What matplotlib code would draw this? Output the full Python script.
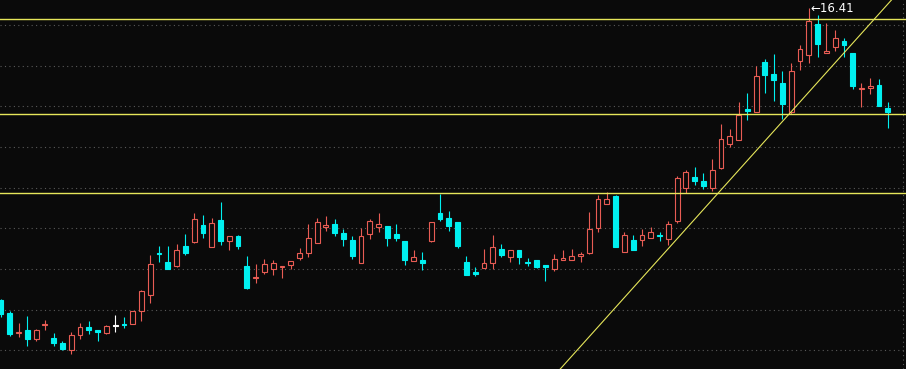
import matplotlib
matplotlib.use('Agg')
import matplotlib.pyplot as plt
import numpy as np

# Daily OHLC (102 sessions)
opens = [9.24, 8.92, 8.42, 8.50, 8.28, 8.62, 8.30, 8.18, 8.02, 8.39,
         8.58, 8.50, 8.43, 8.59, 8.64, 8.65, 8.98, 9.35, 10.40, 10.17,
         10.07, 10.56, 10.66, 11.08, 10.55, 11.21, 10.70, 10.81, 10.07, 9.77,
         9.93, 10.01, 10.06, 10.09, 10.28, 10.40, 10.63, 11.04, 11.11, 10.88,
         10.71, 10.16, 10.87, 11.03, 11.06, 10.87, 10.69, 10.20, 10.22, 10.69,
         11.38, 11.25, 11.16, 10.17, 9.91, 10.03, 10.15, 10.49, 10.30, 10.46,
         10.18, 10.22, 10.09, 10.01, 10.21, 10.22, 10.33, 10.40, 11.02, 11.61,
         11.79, 10.41, 10.71, 10.71, 10.77, 10.82, 10.73, 11.17, 12.00, 12.26,
         12.16, 12.00, 12.49, 13.08, 13.16, 13.92, 13.87, 15.09, 14.79, 14.56,
         13.86, 15.12, 15.25, 16.02, 15.31, 15.46, 15.60, 15.30, 14.42, 14.46,
         14.51, 13.95]
highs = [9.26, 8.96, 8.67, 8.85, 8.53, 8.75, 8.42, 8.23, 8.45, 8.67,
         8.73, 8.50, 8.63, 8.87, 8.82, 8.97, 9.49, 10.34, 10.56, 10.56,
         10.61, 10.85, 11.37, 11.33, 11.26, 11.65, 10.80, 10.84, 10.32, 10.12,
         10.24, 10.21, 10.07, 10.20, 10.52, 11.11, 11.25, 11.30, 11.23, 10.99,
         10.81, 11.01, 11.23, 11.38, 11.06, 11.11, 10.69, 10.47, 10.42, 11.15,
         11.84, 11.43, 11.16, 10.32, 10.05, 10.50, 10.84, 10.62, 10.48, 10.46,
         10.28, 10.22, 10.10, 10.37, 10.47, 10.50, 10.41, 11.40, 11.81, 11.89,
         11.83, 10.92, 10.84, 10.98, 11.03, 10.91, 11.18, 12.28, 12.43, 12.51,
         12.36, 12.70, 13.56, 13.43, 14.10, 14.32, 14.99, 15.15, 15.28, 14.87,
         15.06, 15.50, 16.41, 16.24, 16.04, 15.87, 15.67, 15.30, 14.57, 14.69,
         14.66, 14.10]
lows = [8.83, 8.36, 8.32, 8.12, 8.24, 8.49, 8.12, 8.00, 7.92, 8.29,
        8.40, 8.23, 8.40, 8.46, 8.56, 8.65, 8.73, 9.17, 10.18, 9.99,
        10.04, 10.34, 10.65, 10.77, 10.55, 10.59, 10.47, 10.50, 9.51, 9.66,
        9.89, 9.86, 9.77, 10.01, 10.22, 10.30, 10.63, 10.94, 10.82, 10.57,
        10.25, 10.16, 10.74, 10.92, 10.57, 10.70, 10.11, 10.20, 9.98, 10.66,
        11.19, 10.94, 10.52, 9.85, 9.83, 10.03, 10.01, 10.30, 10.18, 10.13,
        10.07, 10.03, 9.71, 9.94, 10.21, 10.22, 10.17, 10.37, 10.92, 11.59,
        10.55, 10.41, 10.46, 10.56, 10.77, 10.70, 10.59, 11.14, 11.87, 12.06,
        11.97, 11.92, 12.45, 13.00, 13.16, 13.66, 13.87, 14.33, 14.14, 13.69,
        13.80, 14.88, 15.07, 15.22, 15.31, 15.36, 15.22, 14.43, 13.99, 14.31,
        14.00, 13.46]
closes = [8.90, 8.40, 8.45, 8.29, 8.50, 8.65, 8.19, 8.03, 8.37, 8.57,
          8.50, 8.46, 8.60, 8.59, 8.62, 8.97, 9.46, 10.12, 10.38, 9.99,
          10.46, 10.39, 11.23, 10.89, 11.13, 10.69, 10.80, 10.57, 9.53, 9.81,
          10.12, 10.15, 10.07, 10.20, 10.40, 10.76, 11.16, 11.08, 10.89, 10.74,
          10.33, 10.81, 11.18, 11.11, 10.77, 10.77, 10.22, 10.30, 10.16, 11.15,
          11.24, 11.06, 10.57, 9.86, 9.89, 10.15, 10.53, 10.34, 10.46, 10.30,
          10.16, 10.05, 10.04, 10.25, 10.27, 10.32, 10.36, 10.98, 11.71, 11.71,
          10.55, 10.84, 10.46, 10.84, 10.90, 10.80, 11.10, 12.23, 12.38, 12.16,
          12.03, 12.43, 13.19, 13.26, 13.79, 13.89, 14.74, 14.77, 14.65, 14.06,
          14.87, 15.40, 16.09, 15.54, 15.36, 15.67, 15.51, 14.50, 14.46, 14.50,
          14.00, 13.87]

# support / resistance lines and trend line (two anchor points)
levels = [16.14, 13.81, 11.87]
trend_idx = [70, 100]
trend_price = [9.06, 16.27]
peak_label = '←16.41'

bg = '#0a0a0a'
up_col = '#e85c54'
down_col = '#00f0f0'
flat_col = '#ffffff'
line_col = '#e6e65a'

fig = plt.figure(figsize=(9.06, 3.69), dpi=100, facecolor=bg)
ax = fig.add_axes([0, 0, 1, 1], facecolor=bg)

x = np.arange(len(opens))
o = np.array(opens)
c = np.array(closes)
cols = [up_col if cc > oo else down_col if cc < oo else flat_col for oo, cc in zip(o, c)]
faces = [bg if cc > oo else col for oo, cc, col in zip(o, c, cols)]
bottoms = np.minimum(o, c)
heights = np.maximum(np.abs(c - o), 0.025)

# dotted grid
for p in range(8, 17):
    ax.axhline(p, color='#5a5a5a', lw=0.8, ls=(0, (1, 3)), zorder=1)
ax.axvline(102.68, color='#5a5a5a', lw=0.8, ls=(0, (1, 3)), zorder=1)

# wicks and bodies
ax.vlines(x, lows, highs, colors=cols, lw=0.8, zorder=2)
ax.bar(x, heights, bottom=bottoms, width=0.55, facecolor=faces,
       edgecolor=cols, linewidth=0.8, zorder=3)

# horizontal levels and trend line
for lv in levels:
    ax.axhline(lv, color=line_col, lw=1.0, zorder=4)
ax.axline((trend_idx[0], trend_price[0]), (trend_idx[1], trend_price[1]),
          color=line_col, lw=0.8, zorder=4)

# mark the peak
top = int(np.argmax(highs))
ax.text(top + 0.2, highs[top], peak_label, color='white', fontsize=8.5,
        va='center', ha='left', zorder=5)

ax.set_xlim(-0.114, 103.07)
ax.set_ylim(7.544, 16.61)
ax.axis('off')

fig.savefig('out.png', dpi=100, facecolor=bg)
